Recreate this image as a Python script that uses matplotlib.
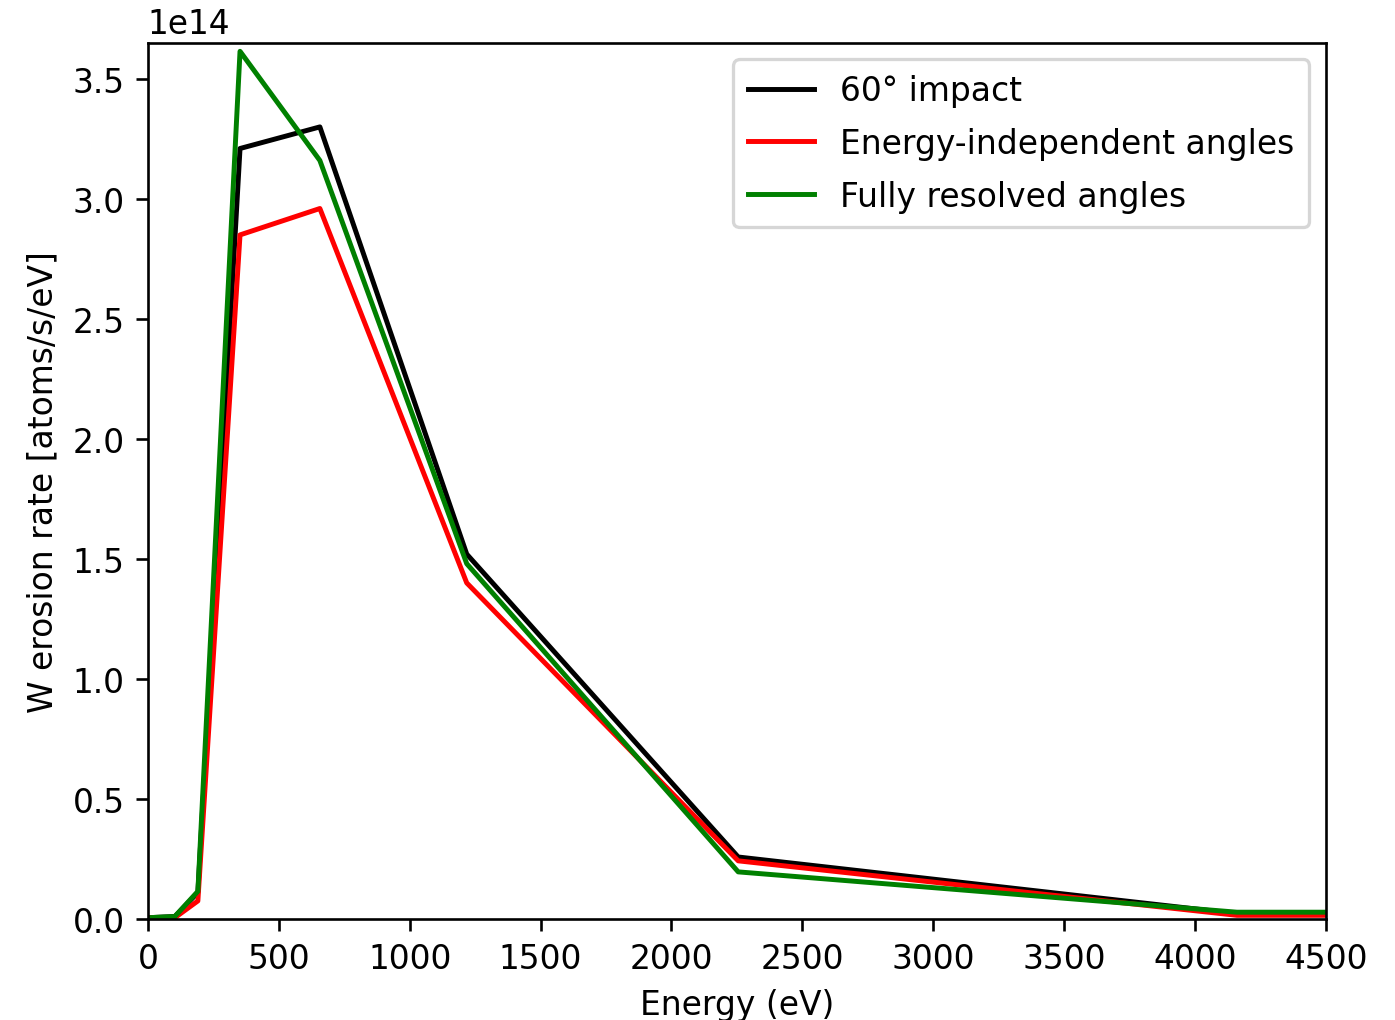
import numpy as np
import matplotlib
matplotlib.use("Agg")
import matplotlib.pyplot as plt

# energies (eV) and erosion rates (atoms/s/eV)
energy = [0, 103, 191, 352, 657, 1218, 2255, 4160, 4500]
rate_60deg = [0.005e14, 0.01e14, 0.11e14, 3.21e14, 3.30e14, 1.52e14, 0.258e14, 0.022e14, 0.022e14]
rate_indep = [0.005e14, 0.005e14, 0.075e14, 2.85e14, 2.96e14, 1.40e14, 0.242e14, 0.015e14, 0.015e14]
rate_resolved = [0.005e14, 0.01e14, 0.115e14, 3.615e14, 3.16e14, 1.48e14, 0.196e14, 0.028e14, 0.028e14]

DPI = 237
fig = plt.figure(figsize=(1395 / DPI, 1021 / DPI), dpi=DPI)
ax = fig.add_axes([0.106, 0.099, 0.8445, 0.858])

ax.plot(energy, rate_60deg, color='black', lw=1.5, label='60° impact')
ax.plot(energy, rate_indep, color='red', lw=1.5, label='Energy-independent angles')
ax.plot(energy, rate_resolved, color='green', lw=1.5, label='Fully resolved angles')

ax.set_xlim(0, 4500)
ax.set_ylim(0, 3.65e14)
ax.set_xlabel('Energy (eV)')
ax.set_ylabel('W erosion rate [atoms/s/eV]')
ax.legend(loc='upper right', labelspacing=0.6, borderpad=0.45)

fig.savefig('out.png', dpi=DPI)
